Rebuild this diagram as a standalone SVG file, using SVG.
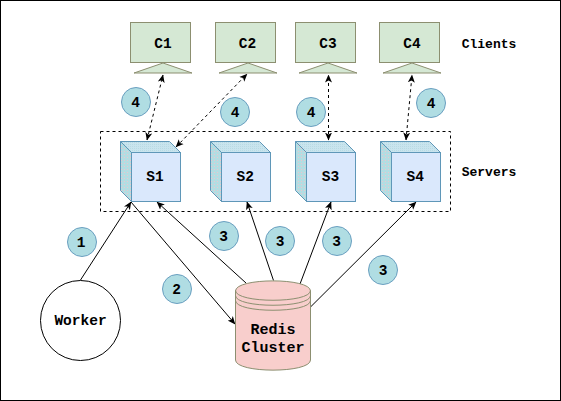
<svg xmlns="http://www.w3.org/2000/svg" width="561" height="401" viewBox="0 0 561 401">
<style>
text{font-family:"Liberation Mono",monospace;font-weight:bold;fill:#000;text-anchor:middle}
.n{font-size:14.5px}
.lab{font-size:13px}
.rc{font-size:15px}
.g{fill:#d5e8d4;stroke:#8c8f70;stroke-width:1}
.front{fill:#dae8fc;stroke:#5f97b8;stroke-width:1}
.side{fill:url(#dotS);stroke:#5f97b8;stroke-width:1}
.top{fill:url(#dotT);stroke:#5f97b8;stroke-width:1}
.b{fill:#b0dde3;stroke:#6a9fc0;stroke-width:1}
.l{fill:none;stroke:#000;stroke-width:1}
.d{stroke-dasharray:3 3}
</style>
<defs>
<pattern id="dotS" width="3" height="3" patternUnits="userSpaceOnUse"><rect width="3" height="3" fill="#b3dde2"/><rect x="1" y="1" width="1" height="1" fill="#eac6ce"/></pattern>
<pattern id="dotT" width="2" height="2" patternUnits="userSpaceOnUse"><rect width="2" height="2" fill="#c9e4ee"/><rect width="1" height="1" fill="#b8dbe4"/></pattern>
<marker id="a" viewBox="0 0 8 8" refX="7.5" refY="4" markerWidth="8" markerHeight="8" markerUnits="userSpaceOnUse" orient="auto-start-reverse"><path d="M0 0.5L8 4L0 7.5L2 4Z" fill="#000"/></marker>
</defs>
<rect x="0.5" y="0.5" width="560" height="400" fill="#fff" stroke="#000"/>
<rect id="servers-box" x="100.5" y="131.5" width="350" height="80" class="l d"/>
<g id="connectors">
<path class="l d" marker-start="url(#a)" marker-end="url(#a)" d="M147 140L163 75"/>
<path class="l d" marker-start="url(#a)" marker-end="url(#a)" d="M176 147L247 74"/>
<path class="l d" marker-start="url(#a)" marker-end="url(#a)" d="M328.5 140V75"/>
<path class="l d" marker-start="url(#a)" marker-end="url(#a)" d="M406 140L412 75"/>
<path class="l" marker-end="url(#a)" d="M80.5 280L131 202"/>
<path class="l" marker-end="url(#a)" d="M131 202L235 324"/>
<path class="l" marker-end="url(#a)" d="M246 283L157 202"/>
<path class="l" marker-end="url(#a)" d="M273.5 280.5L247 202"/>
<path class="l" marker-end="url(#a)" d="M300 284L331 202"/>
<path class="l" marker-end="url(#a)" d="M310.5 307L416 202"/>
</g>
<g id="C1"><rect class="g" x="130.5" y="22.5" width="60" height="40"/><path class="g" d="M134 73L163 63L192 73Z"/><text class="n" x="163" y="48">C1</text></g>
<g id="C2"><rect class="g" x="215.5" y="22.5" width="60" height="40"/><path class="g" d="M219 73L248 63L277 73Z"/><text class="n" x="247.5" y="48">C2</text></g>
<g id="C3"><rect class="g" x="295.5" y="22.5" width="60" height="40"/><path class="g" d="M299 73L328 63L357 73Z"/><text class="n" x="328" y="48">C3</text></g>
<g id="C4"><rect class="g" x="379.5" y="22.5" width="60" height="40"/><path class="g" d="M383 73L412 63L441 73Z"/><text class="n" x="412" y="48">C4</text></g>
<text id="clients-label" class="lab" x="489" y="48">Clients</text>
<text id="servers-label" class="lab" x="489" y="176">Servers</text>
<g id="S1"><path class="side" d="M120.5 141.5L131.5 152.5V201.5L120.5 190.5Z"/><path class="top" d="M120.5 141.5H169.5L180.5 152.5H131.5Z"/><rect class="front" x="131.5" y="152.5" width="49" height="49"/><text class="n" x="155" y="181">S1</text></g>
<g id="S2"><path class="side" d="M210.5 141.5L221.5 152.5V201.5L210.5 190.5Z"/><path class="top" d="M210.5 141.5H259.5L270.5 152.5H221.5Z"/><rect class="front" x="221.5" y="152.5" width="49" height="49"/><text class="n" x="245.3" y="181">S2</text></g>
<g id="S3"><path class="side" d="M295.5 141.5L306.5 152.5V201.5L295.5 190.5Z"/><path class="top" d="M295.5 141.5H344.5L355.5 152.5H306.5Z"/><rect class="front" x="306.5" y="152.5" width="49" height="49"/><text class="n" x="330.5" y="181">S3</text></g>
<g id="S4"><path class="side" d="M380.5 141.5L391.5 152.5V201.5L380.5 190.5Z"/><path class="top" d="M380.5 141.5H429.5L440.5 152.5H391.5Z"/><rect class="front" x="391.5" y="152.5" width="49" height="49"/><text class="n" x="415.3" y="181">S4</text></g>
<g id="Worker"><circle cx="80.5" cy="320.5" r="40" fill="#fff" stroke="#000"/><text class="n" x="80.5" y="325">Worker</text></g>
<g id="Redis"><path d="M235.5 291C235.5 277.5 310.5 277.5 310.5 291V360C310.5 373.5 235.5 373.5 235.5 360Z" fill="#f8cecc" stroke="#8c8f70"/><path d="M235.5 290.5C235.5 303.5 310.5 303.5 310.5 290.5M235.5 295.5C235.5 308.5 310.5 308.5 310.5 295.5M235.5 300.5C235.5 313.5 310.5 313.5 310.5 300.5" fill="none" stroke="#8c8f70"/><text class="rc" x="273" y="334">Redis</text><text class="rc" x="273" y="352">Cluster</text></g>
<g id="b1"><circle class="b" cx="82" cy="242" r="14.5"/><text class="n" x="81" y="247">1</text></g>
<g id="b2"><circle class="b" cx="177" cy="289" r="14.5"/><text class="n" x="176.5" y="294">2</text></g>
<g id="b3a"><circle class="b" cx="224" cy="236" r="14.5"/><text class="n" x="223.5" y="241">3</text></g>
<g id="b3b"><circle class="b" cx="280" cy="241" r="14.5"/><text class="n" x="280" y="246">3</text></g>
<g id="b3c"><circle class="b" cx="337" cy="241" r="14.5"/><text class="n" x="336.5" y="246">3</text></g>
<g id="b3d"><circle class="b" cx="383" cy="270" r="14.5"/><text class="n" x="383" y="275">3</text></g>
<g id="b4a"><circle class="b" cx="136" cy="102" r="14.5"/><text class="n" x="135.5" y="107">4</text></g>
<g id="b4b"><circle class="b" cx="235" cy="112" r="14.5"/><text class="n" x="235" y="117">4</text></g>
<g id="b4c"><circle class="b" cx="311" cy="112" r="14.5"/><text class="n" x="311" y="117">4</text></g>
<g id="b4d"><circle class="b" cx="431" cy="103" r="14.5"/><text class="n" x="431" y="108">4</text></g>
</svg>
